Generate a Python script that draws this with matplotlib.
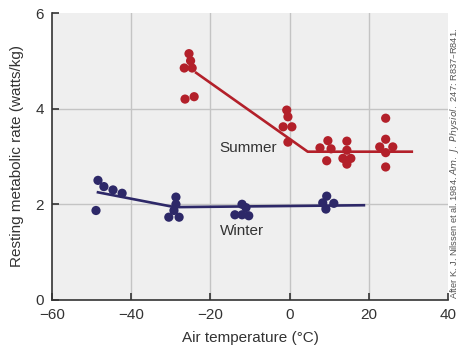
import matplotlib
matplotlib.use("Agg")
import matplotlib.pyplot as plt

plt.rcParams["font.family"] = ["Liberation Sans", "DejaVu Sans"]

# Summer data (air temperature, metabolic rate)
summer_t = [-25.4, -25.0, -26.6, -24.6, -26.4, -24.1,
            -0.7, -0.4, -1.6, 0.6, -0.4,
            7.7, 9.7, 10.5, 9.4,
            14.5, 14.5, 13.5, 15.5, 14.5,
            24.3, 24.3, 22.8, 26.1, 24.3, 24.3]
summer_v = [5.15, 5.0, 4.85, 4.85, 4.2, 4.25,
            3.97, 3.83, 3.62, 3.62, 3.3,
            3.18, 3.33, 3.16, 2.91,
            3.32, 3.13, 2.96, 2.96, 2.84,
            3.8, 3.36, 3.2, 3.2, 3.08, 2.78]
summer_fit_t = [-23.6, 4.6, 30.9]
summer_fit_v = [4.75, 3.1, 3.1]

# Winter data
winter_t = [-48.4, -46.9, -44.6, -42.3, -48.9,
            -28.7, -28.7, -29.2, -30.5, -27.9,
            -12.0, -11.0, -13.8, -12.0, -10.3,
            9.4, 8.4, 11.2, 9.2]
winter_v = [2.5, 2.37, 2.3, 2.23, 1.87,
            2.15, 2.0, 1.87, 1.73, 1.73,
            2.0, 1.93, 1.78, 1.78, 1.76,
            2.17, 2.03, 2.02, 1.9]
winter_fit_t = [-48.4, -29.0, 18.8]
winter_fit_v = [2.25, 1.94, 1.98]

RED = "#b3202a"
NAVY = "#2d2868"
TXT = "#333333"

fig = plt.figure(figsize=(4.65, 3.52), dpi=100)
ax = fig.add_axes([0.112, 0.148, 0.851, 0.815])
ax.set_facecolor("#efefef")

ax.set_xlim(-60, 40)
ax.set_ylim(0, 6)
ax.set_xticks([-60, -40, -20, 0, 20, 40])
ax.set_xticklabels(["\u221260", "\u221240", "\u221220", "0", "20", "40"])
ax.set_yticks([0, 2, 4, 6])

for x in [-40, -20, 0, 20]:
    ax.axvline(x, color="#c4c4c4", lw=1.0, zorder=0)
for y in [2, 4]:
    ax.axhline(y, color="#c4c4c4", lw=1.0, zorder=0)

for s in ["top", "right"]:
    ax.spines[s].set_visible(False)
for s in ["left", "bottom"]:
    ax.spines[s].set_color(TXT)
    ax.spines[s].set_linewidth(1.2)
ax.tick_params(direction="in", length=5, width=1.2, color=TXT,
               labelsize=11, labelcolor=TXT)
ax.tick_params(axis="x", pad=6)
ax.tick_params(axis="y", pad=6)

ax.plot(summer_fit_t, summer_fit_v, color=RED, lw=1.9, zorder=2)
ax.plot(winter_fit_t, winter_fit_v, color=NAVY, lw=1.9, zorder=2)
ax.scatter(summer_t, summer_v, s=44, color=RED, edgecolors="none", zorder=3)
ax.scatter(winter_t, winter_v, s=44, color=NAVY, edgecolors="none", zorder=3)

ax.text(-17.8, 3.17, "Summer", fontsize=11, color=TXT, va="center", ha="left")
ax.text(-17.6, 1.45, "Winter", fontsize=11, color=TXT, va="center", ha="left")

ax.set_xlabel("Air temperature (\u00b0C)", fontsize=11, color=TXT, labelpad=6)
ax.set_ylabel("Resting metabolic rate (watts/kg)", fontsize=11, color=TXT, labelpad=8)

fig.text(0.978, 0.15, "After K. J. Nilssen et al. 1984. $\\it{Am.\\ J.\\ Physiol.}$ 247: R837\u2013R841.",
         rotation=90, fontsize=6.7, color="#555555", ha="center", va="bottom")

fig.savefig("out.png", dpi=100)
